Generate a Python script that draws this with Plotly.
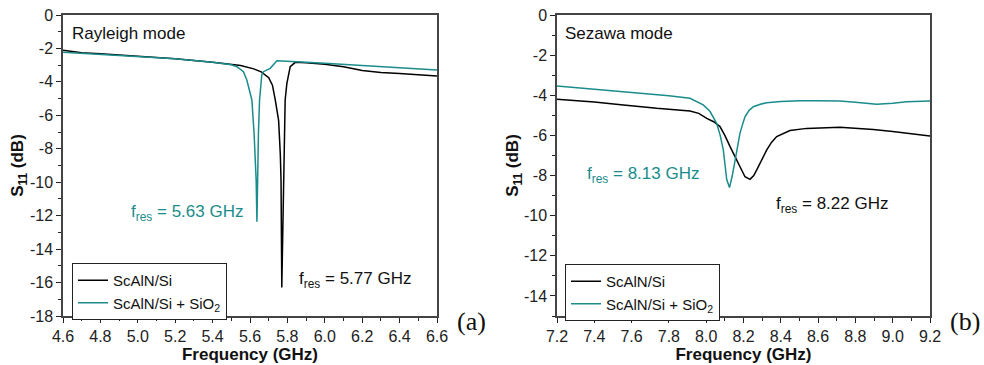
import plotly.graph_objects as go

# ---------------- data ----------------
# (a) Rayleigh mode
ray_f_bare = [4.60, 4.65, 4.70, 4.80, 5.00, 5.20, 5.40, 5.55, 5.62, 5.66, 5.70, 5.72, 5.735,
              5.753, 5.762, 5.766, 5.770, 5.779, 5.784, 5.788, 5.797, 5.815, 5.842, 5.90,
              6.00, 6.10, 6.20, 6.30, 6.40, 6.50, 6.60]
ray_s_bare = [-2.10, -2.18, -2.25, -2.32, -2.47, -2.62, -2.82, -3.02, -3.22, -3.40, -3.75, -4.20, -5.08,
              -6.30, -8.30, -9.90, -16.30, -9.90, -7.00, -5.08, -4.10, -3.09, -2.83, -2.85,
              -2.95, -3.10, -3.32, -3.44, -3.50, -3.57, -3.65]

ray_f_sio2 = [4.60, 4.70, 4.80, 5.00, 5.20, 5.40, 5.50, 5.53, 5.565, 5.583, 5.60, 5.61, 5.622,
              5.633, 5.637, 5.640, 5.645, 5.651, 5.663, 5.672, 5.708, 5.744, 5.80, 5.85,
              6.00, 6.20, 6.40, 6.60]
ray_s_sio2 = [-2.23, -2.30, -2.36, -2.48, -2.62, -2.82, -2.98, -3.09, -3.39, -3.89, -4.60, -5.08, -7.10,
              -9.90, -12.36, -9.90, -7.10, -5.10, -3.59, -3.39, -3.19, -2.73, -2.75, -2.79,
              -2.88, -3.03, -3.15, -3.29]

# (b) Sezawa mode
sez_f_bare = [7.20, 7.30, 7.40, 7.556, 7.735, 7.913, 7.96, 8.003, 8.04, 8.074, 8.10, 8.128, 8.164,
              8.18, 8.208, 8.235, 8.255, 8.271, 8.30, 8.324, 8.35, 8.378, 8.449, 8.539, 8.717,
              8.896, 9.00, 9.075, 9.20]
sez_s_bare = [-4.20, -4.27, -4.33, -4.48, -4.65, -4.78, -4.90, -5.15, -5.32, -5.56, -6.00, -6.56, -7.22,
              -7.56, -8.06, -8.19, -8.00, -7.72, -7.20, -6.73, -6.35, -6.06, -5.76, -5.65, -5.60,
              -5.70, -5.80, -5.90, -6.03]

sez_f_sio2 = [7.20, 7.30, 7.40, 7.556, 7.70, 7.80, 7.913, 7.984, 8.02, 8.056, 8.075, 8.092, 8.11,
              8.125, 8.14, 8.16, 8.181, 8.195, 8.208, 8.23, 8.253, 8.29, 8.324, 8.40, 8.503,
              8.60, 8.717, 8.80, 8.914, 9.00, 9.075, 9.20]
sez_s_sio2 = [-3.54, -3.62, -3.70, -3.82, -3.93, -4.02, -4.15, -4.48, -4.80, -5.40, -6.00, -6.73, -8.20,
              -8.60, -8.00, -6.90, -5.90, -5.45, -5.07, -4.75, -4.57, -4.45, -4.37, -4.31, -4.27,
              -4.27, -4.29, -4.35, -4.45, -4.40, -4.32, -4.29]

series_names = ["ScAlN/Si", "ScAlN/Si + SiO<sub>2</sub>"]

# tick labels
ray_xticks = [4.6, 4.8, 5.0, 5.2, 5.4, 5.6, 5.8, 6.0, 6.2, 6.4, 6.6]
ray_xlabels = ["4.6", "4.8", "5.0", "5.2", "5.4", "5.6", "5.8", "6.0", "6.2", "6.4", "6.6"]
ray_yticks = [0, -2, -4, -6, -8, -10, -12, -14, -16, -18]
ray_ylabels = ["0", "-2", "-4", "-6", "-8", "-10", "-12", "-14", "-16", "-18"]
sez_xticks = [7.2, 7.4, 7.6, 7.8, 8.0, 8.2, 8.4, 8.6, 8.8, 9.0, 9.2]
sez_xlabels = ["7.2", "7.4", "7.6", "7.8", "8.0", "8.2", "8.4", "8.6", "8.8", "9.0", "9.2"]
sez_yticks = [0, -2, -4, -6, -8, -10, -12, -14]
sez_ylabels = ["0", "-2", "-4", "-6", "-8", "-10", "-12", "-14"]

# ---------------- style ----------------
BLACK = "#000000"
TEAL = "#1a8c8c"
FONT = "Arial"
SERIF = "Liberation Serif"

fig = go.Figure()

fig.add_trace(go.Scatter(x=ray_f_bare, y=ray_s_bare, mode="lines", name=series_names[0],
                         line=dict(color=BLACK, width=1.5), xaxis="x", yaxis="y", legend="legend"))
fig.add_trace(go.Scatter(x=ray_f_sio2, y=ray_s_sio2, mode="lines", name=series_names[1],
                         line=dict(color=TEAL, width=1.5), xaxis="x", yaxis="y", legend="legend"))
fig.add_trace(go.Scatter(x=sez_f_bare, y=sez_s_bare, mode="lines", name=series_names[0],
                         line=dict(color=BLACK, width=1.5), xaxis="x2", yaxis="y2", legend="legend2"))
fig.add_trace(go.Scatter(x=sez_f_sio2, y=sez_s_sio2, mode="lines", name=series_names[1],
                         line=dict(color=TEAL, width=1.5), xaxis="x2", yaxis="y2", legend="legend2"))

W, H = 984, 365
ydom = [(H - 316) / H, (H - 15) / H]


def xaxis(dom, rng, vals, labels, tick0):
    return dict(domain=dom, range=rng, tickvals=vals, ticktext=labels, ticks="outside", ticklen=5,
                tickwidth=1.2, tickcolor="#222", showline=True, linecolor="#444", linewidth=1.5,
                mirror=True, showgrid=False, zeroline=False,
                tickfont=dict(family=FONT, size=16, color="#222"),
                minor=dict(ticks="outside", ticklen=3, tickcolor="#222", dtick=0.1, tick0=tick0, showgrid=False),
                title=dict(text="<b>Frequency (GHz)</b>", font=dict(family=FONT, size=17, color="#111"),
                           standoff=2))


def yaxis(anchor, rng, vals, labels):
    return dict(domain=ydom, anchor=anchor, range=rng, tickvals=vals, ticktext=labels, ticks="outside",
                ticklen=5, tickwidth=1.2, tickcolor="#222", showline=True, linecolor="#444", linewidth=1.5,
                mirror=True, showgrid=False, zeroline=False,
                tickfont=dict(family=FONT, size=16, color="#222"),
                minor=dict(ticks="outside", ticklen=3, tickcolor="#222", dtick=1, tick0=0, showgrid=False),
                title=dict(text="<b>S<sub>11</sub> (dB)</b>", font=dict(family=FONT, size=17, color="#111"),
                           standoff=1))


legend_style = dict(bgcolor="white", bordercolor="#222", borderwidth=1,
                    font=dict(family=FONT, size=15, color="#111"),
                    xanchor="left", yanchor="top", tracegroupgap=0, itemwidth=30)

fig.update_layout(
    width=W, height=H, margin=dict(l=0, r=0, t=0, b=0, autoexpand=False),
    paper_bgcolor="white", plot_bgcolor="white",
    xaxis=dict(**xaxis([63 / W, 437 / W], [4.6, 6.6], ray_xticks, ray_xlabels, 4.6), anchor="y"),
    yaxis=yaxis("x", [-18, 0], ray_yticks, ray_ylabels),
    xaxis2=dict(**xaxis([557 / W, 930 / W], [7.2, 9.2], sez_xticks, sez_xlabels, 7.2), anchor="y2"),
    yaxis2=yaxis("x2", [-15, 0], sez_yticks, sez_ylabels),
    legend=dict(**legend_style, x=72 / W, y=(H - 263) / H),
    legend2=dict(**legend_style, x=565 / W, y=(H - 264) / H),
    showlegend=True,
)

ann_font = dict(family=FONT, size=17)
annotations = [
    dict(text="Rayleigh mode", x=4.64, y=-1.08, xref="x", yref="y", xanchor="left", showarrow=False,
         font=dict(**ann_font, color="#111")),
    dict(text="f<sub>res</sub> = 5.63 GHz", x=5.264, y=-11.84, xref="x", yref="y", showarrow=False,
         font=dict(**ann_font, color=TEAL)),
    dict(text="f<sub>res</sub> = 5.77 GHz", x=6.163, y=-15.85, xref="x", yref="y", showarrow=False,
         font=dict(**ann_font, color="#111")),
    dict(text="Sezawa mode", x=7.23, y=-0.9, xref="x2", yref="y2", xanchor="left", showarrow=False,
         font=dict(**ann_font, color="#111")),
    dict(text="f<sub>res</sub> = 8.13 GHz", x=7.661, y=-7.97, xref="x2", yref="y2", showarrow=False,
         font=dict(**ann_font, color=TEAL)),
    dict(text="f<sub>res</sub> = 8.22 GHz", x=8.675, y=-9.47, xref="x2", yref="y2", showarrow=False,
         font=dict(**ann_font, color="#111")),
    dict(text="(a)", x=488 / W, y=(H - 338) / H, xref="paper", yref="paper", xanchor="right",
         showarrow=False, font=dict(family=SERIF, size=26, color="#111")),
    dict(text="(b)", x=982 / W, y=(H - 338) / H, xref="paper", yref="paper", xanchor="right",
         showarrow=False, font=dict(family=SERIF, size=26, color="#111")),
]
fig.update_layout(annotations=annotations)

fig.write_html("out.html")
